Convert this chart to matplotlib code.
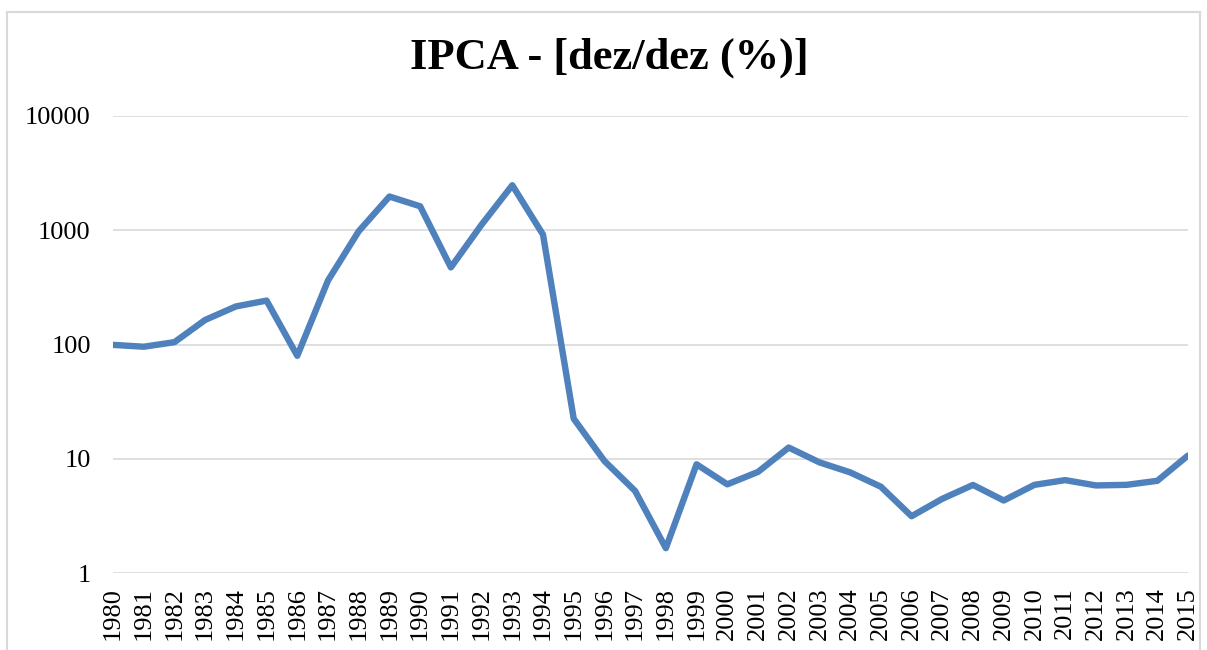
import matplotlib.pyplot as plt
from matplotlib.patches import Rectangle
from matplotlib.ticker import FixedLocator, NullLocator

# dados: IPCA dez/dez (%)
anos = [str(a) for a in range(1980, 2016)]
ipca = [99.25, 95.62, 104.79, 164.01, 215.26, 242.23, 79.66, 363.41, 980.21,
        1972.91, 1620.97, 472.70, 1119.10, 2477.15, 916.46, 22.41, 9.56, 5.22,
        1.65, 8.94, 5.97, 7.67, 12.53, 9.30, 7.60, 5.69, 3.14, 4.46, 5.90,
        4.31, 5.91, 6.50, 5.84, 5.91, 6.41, 10.67]
yticks = [1, 10, 100, 1000, 10000]

plt.rcParams['font.family'] = ['Liberation Serif', 'DejaVu Serif']

fig = plt.figure(figsize=(12.07, 6.5), dpi=100)
ax = fig.add_axes([113 / 1207, 1 - 573 / 650, (1188 - 113) / 1207, (573 - 116) / 650])

x = list(range(len(anos)))
ax.plot(x, ipca, color='#4F81BD', linewidth=4.6,
        solid_joinstyle='round', solid_capstyle='round', zorder=3)

ax.set_yscale('log')
ax.set_ylim(1, 10000)
ax.yaxis.set_major_locator(FixedLocator(yticks))
ax.yaxis.set_minor_locator(NullLocator())
ax.set_yticklabels([str(v) for v in yticks])
ax.set_xlim(0, len(anos) - 1)
ax.set_xticks(x)
ax.set_xticklabels(anos, rotation=90)

ax.grid(axis='y', color='#D9D9D9', linewidth=1.2)
ax.set_axisbelow(True)
for s in ax.spines.values():
    s.set_visible(False)
ax.tick_params(axis='y', length=0, pad=16, labelsize=19)
ax.tick_params(axis='x', length=0, pad=10, labelsize=19)

fig.text(0.505, 1 - 58 / 650, 'IPCA - [dez/dez (%)]', ha='center', va='center',
         fontsize=32, fontweight='bold')

# moldura do gráfico
fig.patches.append(Rectangle((7 / 1207, -0.01), (1200 - 7) / 1207, 1 - 12 / 650 + 0.01,
                             transform=fig.transFigure, fill=False,
                             edgecolor='#D9D9D9', linewidth=1.5))

fig.savefig('out.png', dpi=100)
